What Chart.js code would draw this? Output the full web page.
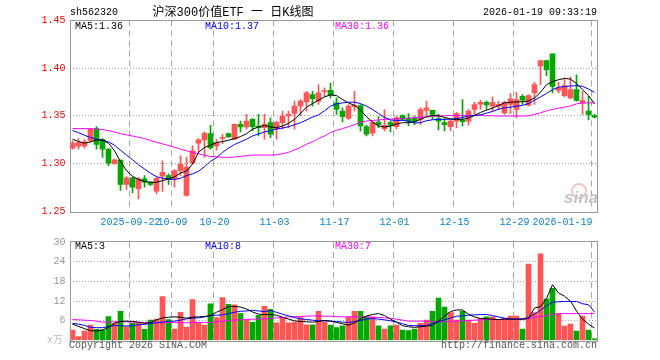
<!DOCTYPE html>
<html>
<head>
<meta charset="utf-8">
<script src="https://cdn.jsdelivr.net/npm/chart.js@4.4.1/dist/chart.umd.min.js"></script>
<style>
body { margin: 0; background: #fff; }
#wrap { position: relative; width: 660px; height: 360px; overflow: hidden;
  font-family: 'Liberation Mono', 'Noto Sans CJK SC', monospace; font-size: 10px; }
canvas { position: absolute; left: 0; }
.t { position: absolute; white-space: pre; line-height: 12px; }
</style>
</head>
<body>
<div id="wrap">
  <canvas id="kline" width="660" height="232" style="top:0"></canvas>
  <canvas id="vol" width="660" height="128" style="top:232px"></canvas>

  <div class="t" style="left:70px;top:7px">sh562320</div>
  <div class="t" style="left:233px;top:6px;font-size:12px;line-height:14px;transform:translateX(-50%)">沪深300价值ETF 一 日K线图</div>
  <div class="t" style="right:63px;top:7px">2026-01-19 09:33:19</div>

  <div class="t" style="left:75px;top:21px;color:#000">MA5:1.36</div>
  <div class="t" style="left:205px;top:21px;color:#0000ff">MA10:1.37</div>
  <div class="t" style="left:335px;top:21px;color:#ff00ff">MA30:1.36</div>

  <div class="t" style="left:75px;top:241px;color:#000">MA5:3</div>
  <div class="t" style="left:205px;top:241px;color:#0000ff">MA10:8</div>
  <div class="t" style="left:335px;top:241px;color:#ff00ff">MA30:7</div>

  <div class="t" style="right:597px;top:335px;color:#bbb">x万</div>
  <div class="t" style="left:69px;top:340px;color:#555">Copyright 2026 SINA.COM</div>
  <div class="t" style="right:63px;top:340px;color:#555">http://finance.sina.com.cn</div>

  <div style="position:absolute;left:571px;top:183px;width:12px;height:12px;border-radius:50%;border:2px solid #f3b5b5;opacity:.8"></div>
  <div class="t" style="left:564px;top:190px;font:italic bold 17px 'Liberation Sans',sans-serif;line-height:16px;color:#c4c4c4">sina</div>
</div>

<script>
var dates = ['09-08','09-09','09-10','09-11','09-12','09-15','09-16','09-17','09-18','09-19',
  '09-22','09-23','09-24','09-25','09-26','09-29','09-30','10-09','10-10','10-13',
  '10-14','10-15','10-16','10-17','10-20','10-21','10-22','10-23','10-24','10-27',
  '10-28','10-29','10-30','10-31','11-03','11-04','11-05','11-06','11-07','11-10',
  '11-11','11-12','11-13','11-14','11-17','11-18','11-19','11-20','11-21','11-24',
  '11-25','11-26','11-27','11-28','12-01','12-02','12-03','12-04','12-05','12-08',
  '12-09','12-10','12-11','12-12','12-15','12-16','12-17','12-18','12-19','12-22',
  '12-23','12-24','12-25','12-26','12-29','12-30','12-31','01-05','01-06','01-07',
  '01-08','01-09','01-12','01-13','01-14','01-15','01-16','01-19'];

var axisDates = ['09-22','10-09','10-20','11-03','11-17','12-01','12-15','12-29','01-19'];
var axisLabels = ['2025-09-22','10-09','10-20','11-03','11-17','12-01','12-15','12-29','2026-01-19'];
var priceTicks = [1.25, 1.30, 1.35, 1.40, 1.45];
var volTicks = [0, 6, 12, 18, 24, 30];

var opens = [1.316,1.318,1.318,1.324,1.3365,1.325,1.315,1.2997,1.3035,1.2778,
  1.2847,1.2733,1.2837,1.2802,1.2708,1.2865,1.2872,1.2837,1.2924,1.2663,
  1.3003,1.3212,1.3247,1.3313,1.3184,1.3262,1.3313,1.3253,1.341,1.3382,
  1.3462,1.3392,1.3375,1.3427,1.3358,1.3427,1.3497,1.3524,1.3601,1.3646,
  1.3722,1.3653,1.3754,1.3767,1.3635,1.3549,1.3472,1.3598,1.3608,1.3385,
  1.3316,1.3434,1.3365,1.3427,1.3385,1.3503,1.3472,1.3472,1.3462,1.3556,
  1.3556,1.3469,1.3427,1.3385,1.3444,1.3455,1.3444,1.3566,1.3622,1.3642,
  1.3601,1.3601,1.3531,1.3618,1.3566,1.3705,1.3611,1.374,1.4024,1.408,
  1.4149,1.3767,1.3712,1.3688,1.3774,1.3635,1.3549,1.3503];
var highs = [1.3236,1.326,1.325,1.3365,1.3385,1.326,1.3156,1.3045,1.3035,1.2861,
  1.2854,1.2854,1.2872,1.281,1.2854,1.3028,1.2889,1.2934,1.308,1.3063,
  1.3184,1.326,1.333,1.34,1.3253,1.3306,1.3316,1.3413,1.3444,1.3514,
  1.3469,1.3514,1.3514,1.3479,1.3444,1.3549,1.3549,1.3653,1.367,1.3757,
  1.3757,1.3826,1.3792,1.3844,1.3688,1.3583,1.3618,1.3757,1.3618,1.34,
  1.3444,1.349,1.3566,1.3444,1.3497,1.351,1.3524,1.3497,1.3583,1.3653,
  1.3556,1.3514,1.3469,1.3462,1.3538,1.367,1.3566,1.3642,1.3663,1.3653,
  1.3698,1.3653,1.3653,1.3733,1.3747,1.3722,1.3722,1.385,1.408,1.408,
  1.4149,1.385,1.3896,1.3906,1.393,1.3757,1.3705,1.3514];
var lows = [1.3149,1.3149,1.316,1.3219,1.3149,1.3063,1.2976,1.299,1.2715,1.2726,
  1.2691,1.2628,1.275,1.2767,1.268,1.2705,1.2778,1.275,1.2872,1.2656,
  1.2993,1.3115,1.3063,1.3149,1.3139,1.3208,1.3275,1.325,1.333,1.3358,
  1.334,1.3288,1.3253,1.3271,1.3253,1.3358,1.3375,1.3358,1.3497,1.3549,
  1.3601,1.3618,1.3705,1.3688,1.3514,1.3434,1.3462,1.3549,1.334,1.3288,
  1.3288,1.3375,1.334,1.333,1.3365,1.3455,1.3392,1.3406,1.341,1.3497,
  1.3462,1.335,1.334,1.334,1.3375,1.3392,1.34,1.3497,1.3566,1.3566,
  1.3549,1.3566,1.3514,1.3524,1.3479,1.3618,1.36,1.3618,1.3826,1.392,
  1.374,1.374,1.3698,1.3677,1.3653,1.3514,1.3455,1.3476];
var closes = [1.3212,1.3219,1.3226,1.3358,1.3198,1.3149,1.3003,1.3038,1.2778,1.2847,
  1.275,1.2837,1.2802,1.2778,1.2844,1.2906,1.283,1.2924,1.2993,1.2962,
  1.3132,1.3247,1.3316,1.3163,1.3219,1.3267,1.3278,1.341,1.3382,1.3444,
  1.3385,1.3375,1.341,1.3306,1.3427,1.3497,1.3514,1.3601,1.3653,1.374,
  1.368,1.374,1.3757,1.3715,1.3566,1.349,1.3601,1.3603,1.3392,1.3306,
  1.3427,1.3406,1.34,1.34,1.3479,1.3462,1.3444,1.3441,1.3566,1.3583,
  1.3514,1.3444,1.3406,1.3444,1.3524,1.3438,1.3549,1.3618,1.3642,1.3615,
  1.3642,1.3618,1.3642,1.3677,1.367,1.3663,1.3712,1.3826,1.408,1.3983,
  1.3809,1.3792,1.3816,1.3774,1.366,1.366,1.3514,1.3486];

var ma5 = [1.3253,1.3229,1.3212,1.3226,1.3246,1.3243,1.3212,1.3132,1.3017,1.2924,
  1.2865,1.2830,1.2809,1.2802,1.2802,1.2819,1.2837,1.2858,1.2899,1.2920,
  1.2993,1.3115,1.3167,1.3191,1.3219,1.3229,1.3243,1.3260,1.3281,1.3312,
  1.3358,1.3382,1.3399,1.3382,1.3375,1.3392,1.3420,1.3462,1.3524,1.3590,
  1.3628,1.3663,1.3698,1.3719,1.3712,1.3670,1.3635,1.3608,1.3559,1.3490,
  1.3434,1.3392,1.3382,1.3392,1.3413,1.3427,1.3427,1.3437,1.3462,1.3490,
  1.3503,1.3500,1.3483,1.3465,1.3462,1.3462,1.3476,1.3503,1.3535,1.3559,
  1.3580,1.3608,1.3635,1.3642,1.3646,1.3646,1.3656,1.3687,1.3746,1.3826,
  1.3858,1.3878,1.3892,1.3885,1.3837,1.3774,1.3712,1.3628];
var ma10 = [1.3344,1.3323,1.3295,1.3271,1.3253,1.3246,1.3226,1.3191,1.3139,1.3087,
  1.3038,1.2986,1.2941,1.2896,1.2861,1.2844,1.2837,1.2830,1.2844,1.2872,
  1.2889,1.2917,1.2965,1.3021,1.3059,1.3115,1.3160,1.3198,1.3226,1.3253,
  1.3288,1.3309,1.3330,1.3344,1.3361,1.3371,1.3385,1.3406,1.3427,1.3455,
  1.3486,1.3510,1.3552,1.3601,1.3625,1.3635,1.3642,1.3642,1.3628,1.3601,
  1.3566,1.3524,1.3483,1.3455,1.3451,1.3451,1.3444,1.3424,1.3427,1.3448,
  1.3458,1.3462,1.3462,1.3465,1.3469,1.3483,1.3497,1.3503,1.3510,1.3528,
  1.3545,1.3569,1.3583,1.3590,1.3601,1.3608,1.3628,1.3663,1.3698,1.3733,
  1.3774,1.3799,1.3806,1.3812,1.3816,1.3809,1.3780,1.3746];
var ma30 = [1.3365,1.3365,1.3365,1.3365,1.3361,1.3354,1.3344,1.3330,1.3312,1.3299,
  1.3288,1.3274,1.3260,1.3239,1.3222,1.3205,1.3187,1.3170,1.3149,1.3132,
  1.3115,1.3101,1.3084,1.3073,1.3069,1.3063,1.3063,1.3066,1.3073,1.3080,
  1.3087,1.3087,1.3087,1.3087,1.3090,1.3101,1.3115,1.3142,1.3167,1.3201,
  1.3226,1.3260,1.3288,1.3323,1.3347,1.3365,1.3385,1.3406,1.3431,1.3444,
  1.3451,1.3455,1.3462,1.3465,1.3469,1.3472,1.3476,1.3479,1.3483,1.3486,
  1.3493,1.3497,1.3500,1.3503,1.3503,1.3503,1.3503,1.3503,1.3503,1.3500,
  1.3500,1.3497,1.3497,1.3497,1.3497,1.3497,1.3500,1.3514,1.3531,1.3552,
  1.3566,1.3580,1.3590,1.3604,1.3625,1.3635,1.3635,1.3635];

var volumes = [3.2,1.2,2.9,4.7,3.4,3.2,7.3,5.2,8.9,4.2,
  5.2,5.4,3.4,6.2,6.5,13.4,6.4,3.5,8.6,4.1,
  12.5,5.5,4.7,11.2,7.0,13.1,11.0,10.9,8.2,6.2,
  5.5,7.7,10.4,9.5,5.4,6.8,5.4,5.6,7.0,4.8,
  4.8,8.9,5.6,4.7,3.9,4.5,7.2,8.9,8.9,7.2,
  7.2,4.5,3.5,4.5,4.7,3.2,3.0,3.5,5.2,6.2,
  8.9,12.9,10.2,8.5,6.2,8.9,6.2,5.2,6.7,7.2,
  7.2,6.2,6.7,7.4,7.4,3.5,23.3,8.5,26.4,12.7,
  15.9,8.2,4.4,5.0,2.9,7.4,3.2,0.5];
var volMa5 = [5.0,4.3,3.6,3.0,2.9,3.2,4.0,5.3,5.8,5.9,
  5.8,5.6,5.2,5.5,6.3,6.9,7.1,7.2,7.1,6.8,
  7.1,7.2,7.3,7.6,8.6,9.4,10.3,10.4,10.2,9.6,
  8.7,8.0,7.9,7.9,7.7,7.1,6.5,6.0,5.8,5.7,
  5.6,5.8,6.1,5.9,5.5,5.1,4.7,5.4,6.5,7.5,
  7.9,8.2,7.6,6.5,5.6,4.5,4.2,4.0,4.2,4.4,
  4.6,6.0,7.4,8.8,9.3,9.3,8.0,7.2,6.7,6.6,
  6.5,6.4,6.5,6.5,6.5,6.5,6.7,9.9,10.3,12.8,
  17.0,14.5,13.5,12.0,9.0,6.5,5.0,3.8];
var volMa10 = [5.2,5.0,4.6,4.0,3.9,3.9,4.2,4.6,4.5,4.4,
  4.5,4.8,4.9,5.2,5.4,5.6,5.8,5.9,6.2,6.6,
  6.8,6.9,7.2,7.6,7.7,7.8,8.2,8.6,8.9,9.0,
  9.2,9.0,8.8,9.1,8.6,8.0,7.5,7.0,6.6,6.4,
  6.2,6.0,6.0,5.9,5.8,5.6,5.5,5.8,6.1,6.5,
  6.7,6.5,6.3,6.0,5.6,5.1,4.6,4.5,4.5,4.6,
  5.2,5.7,6.3,6.8,7.4,7.5,7.7,7.8,7.9,7.9,
  7.6,7.2,6.8,6.6,6.5,6.6,7.0,8.0,9.2,10.6,
  11.7,11.8,11.9,11.9,11.9,11.2,10.9,8.7];
var volMa30 = [6.4,6.3,6.2,6.1,5.9,5.6,5.6,5.7,5.7,5.7,
  5.6,5.5,5.5,5.5,5.5,5.5,5.5,5.5,5.4,5.4,
  5.5,5.5,5.5,5.5,5.7,5.9,6.1,6.2,6.3,6.4,
  6.5,6.5,6.6,6.7,6.9,7.0,7.2,7.3,7.3,7.4,
  7.5,7.5,7.4,7.4,7.3,7.2,7.2,7.2,7.2,7.2,
  7.1,7.0,6.9,6.8,6.5,6.2,5.9,5.9,5.9,5.9,
  5.8,5.7,5.7,5.8,5.9,6.0,6.1,6.2,6.3,6.3,
  6.4,6.4,6.5,6.5,6.5,6.5,6.6,7.0,7.3,7.5,
  8.0,8.1,8.2,8.2,8.2,8.2,8.2,8.2];

var RED = '#ff5555', GREEN = '#00a800', GRID = '#a8a8a8', NONE = 'rgba(0,0,0,0)';
var upColors = closes.map(function(c, i) { return c >= opens[i] ? RED : GREEN; });

Chart.defaults.font.family = "'Liberation Mono', 'DejaVu Sans Mono', monospace";
Chart.defaults.font.size = 10;

// box round the plot area
var frame = {
  id: 'frame',
  afterDraw: function(chart) {
    var a = chart.chartArea, c = chart.ctx;
    c.save();
    c.strokeStyle = '#999';
    c.lineWidth = 1;
    c.strokeRect(Math.round(a.left) + 0.5, Math.round(a.top) - 0.5, Math.round(a.right - a.left) - 1, Math.round(a.bottom - a.top) + 1);
    c.restore();
  }
};

function xGridColor(c) {
  return (c.index !== undefined && axisDates.indexOf(dates[c.index]) >= 0) ? GRID : NONE;
}

function lineSet(data, color) {
  return { type: 'line', data: data, borderColor: color, borderWidth: 1, pointRadius: 0, tension: 0, order: 1 };
}

var baseOpts = {
  responsive: false,
  animation: false,
  events: [],
  plugins: { legend: { display: false }, tooltip: { enabled: false } }
};

new Chart(document.getElementById('kline'), {
  type: 'bar',
  data: {
    labels: dates,
    datasets: [
      lineSet(ma5, '#000000'),
      lineSet(ma10, '#0000ff'),
      lineSet(ma30, '#ff00ff'),
      { data: lows.map(function(l, i) { return [l, highs[i]]; }), backgroundColor: upColors,
        barThickness: 1, grouped: false, order: 3 },
      { data: opens.map(function(o, i) { return [o, closes[i]]; }), backgroundColor: upColors,
        barThickness: 5, minBarLength: 1, grouped: false, order: 2 }
    ]
  },
  options: Object.assign({}, baseOpts, {
    layout: { padding: { left: 0, right: 62.5, top: 20.5, bottom: 0 } },
    scales: {
      x: {
        offset: true,
        afterFit: function(s) { s.height = 21; },
        grid: { offset: true, drawTicks: false, color: xGridColor },
        border: { display: false, dash: [6, 4] },
        ticks: {
          autoSkip: false, maxRotation: 0, minRotation: 0, padding: 5, labelOffset: -2,
          color: '#0a84d0',
          callback: function(v, i) {
            var k = axisDates.indexOf(dates[i]);
            if (k < 0) return '';
            return i === dates.length - 1 ? axisLabels[k] + '          ' : axisLabels[k];
          }
        }
      },
      y: {
        min: 1.25, max: 1.45,
        afterFit: function(s) { s.width = 69.5; },
        afterBuildTicks: function(s) { s.ticks = priceTicks.map(function(v) { return { value: v }; }); },
        grid: { drawTicks: false, color: function(c) {
          return (c.tick && c.tick.value > 1.2501 && c.tick.value < 1.4499) ? GRID : NONE; } },
        border: { display: false, dash: [1, 2] },
        ticks: { padding: 4, color: '#ff0000', callback: function(v) { return Number(v).toFixed(2); } }
      }
    }
  }),
  plugins: [frame]
});

new Chart(document.getElementById('vol'), {
  type: 'bar',
  data: {
    labels: dates,
    datasets: [
      lineSet(volMa5, '#000000'),
      lineSet(volMa10, '#0000ff'),
      lineSet(volMa30, '#ff00ff'),
      { data: volumes, backgroundColor: upColors, barThickness: 5, order: 2 }
    ]
  },
  options: Object.assign({}, baseOpts, {
    layout: { padding: { left: 0, right: 62.5, top: 9, bottom: 0 } },
    scales: {
      x: {
        offset: true,
        afterFit: function(s) { s.height = 19.5; },
        grid: { offset: true, drawTicks: false, color: xGridColor },
        border: { display: false, dash: [6, 4] },
        ticks: { display: false }
      },
      y: {
        min: 0, max: 30,
        afterFit: function(s) { s.width = 69.5; },
        afterBuildTicks: function(s) { s.ticks = volTicks.map(function(v) { return { value: v }; }); },
        grid: { drawTicks: false, color: function(c) {
          return (c.tick && c.tick.value > 0 && c.tick.value < 30) ? GRID : NONE; } },
        border: { display: false, dash: [1, 2] },
        ticks: { padding: 4, color: '#999', callback: function(v) { return v === 0 ? '' : v; } }
      }
    }
  }),
  plugins: [frame]
});
</script>
</body>
</html>
